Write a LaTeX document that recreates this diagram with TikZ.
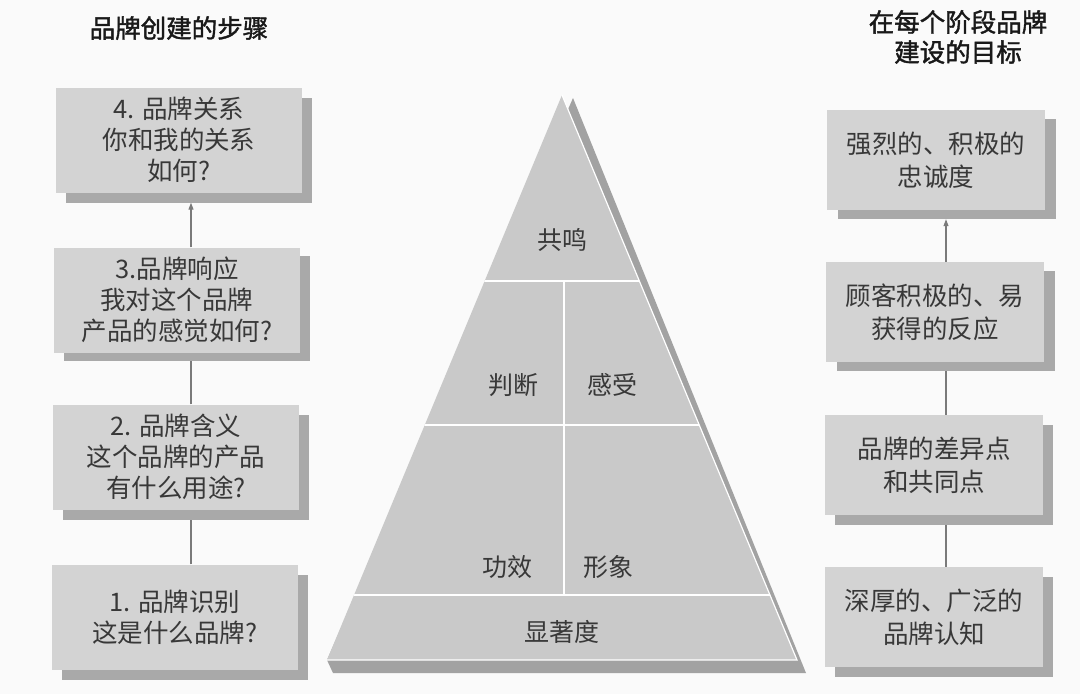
\documentclass[tikz,border=0pt]{standalone}
\usepackage{fontspec}
\setmainfont{Noto Sans CJK SC}
\newfontfamily\boldcjk[FakeBold=1.5]{Noto Sans CJK SC}
\usetikzlibrary{arrows.meta}
\definecolor{bg}{HTML}{FAFAFA}
\definecolor{boxfill}{HTML}{D3D3D3}
\definecolor{shadowfill}{HTML}{A9A9A9}
\definecolor{pyrfill}{HTML}{C9C9C9}
\definecolor{pyrshadow}{HTML}{A2A2A2}
\definecolor{txt}{HTML}{383838}
\definecolor{linecol}{HTML}{7A7A7A}
\tikzset{
  stepbox/.style={fill=boxfill, draw=none, minimum width=246pt, minimum height=105pt,
    align=center, text=txt, font=\fontsize{25.5}{31}\selectfont, inner sep=0pt},
  goalbox/.style={fill=boxfill, draw=none, minimum width=218pt, minimum height=100pt,
    align=center, text=txt, font=\fontsize{25.5}{33}\selectfont, inner sep=0pt},
  lshadow/.style={fill=shadowfill, draw=none, minimum width=246pt, minimum height=105pt, inner sep=0pt},
  rshadow/.style={fill=shadowfill, draw=none, minimum width=218pt, minimum height=100pt, inner sep=0pt},
  conn/.style={draw=linecol, line width=1.1pt},
  connarrow/.style={conn, -{Triangle[length=7pt,width=5pt]}},
  pyrtext/.style={text=txt, font=\fontsize{25}{28}\selectfont, inner sep=0pt},
  titletext/.style={text=black!90, font=\boldcjk\fontsize{25.5}{30}\selectfont, align=center, inner sep=0pt},
  divline/.style={draw=white, line width=1.6pt}
}
\begin{document}
\begin{tikzpicture}[x=1pt,y=-1pt]
\fill[bg] (0,0) rectangle (1080,694);
\useasboundingbox (0,0) rectangle (1080,694);

% titles
\node[titletext] (tl) at (179,28) {品牌创建的步骤};
\node[titletext] (tr) at (958,37) {在每个阶段品牌\\建设的目标};

% left column
\node[lshadow] (s4) at (189,150) {};
\node[stepbox] (b4) at (179,140) {4. 品牌关系\\你和我的关系\\如何?};
\node[lshadow] (s3) at (187,308) {};
\node[stepbox] (b3) at (177,300) {3.品牌响应\\我对这个品牌\\产品的感觉如何?};
\node[lshadow] (s2) at (186,467) {};
\node[stepbox] (b2) at (176,457) {2. 品牌含义\\这个品牌的产品\\有什么用途?};
\node[lshadow] (s1) at (185,627) {};
\node[stepbox] (b1) at (175,617) {1. 品牌识别\\这是什么品牌?};

\coordinate (Lx) at (191,0);
\draw[connarrow] (b3.north -| Lx) -- (s4.south -| Lx);
\draw[conn] (b2.north -| Lx) -- (s3.south -| Lx);
\draw[conn] (b1.north -| Lx) -- (s2.south -| Lx);

% right column
\node[rshadow] (sa) at (947,169) {};
\node[goalbox] (ga) at (936,160) {强烈的、积极的\\忠诚度};
\node[rshadow] (sb) at (946,321) {};
\node[goalbox] (gb) at (935,312) {顾客积极的、易\\获得的反应};
\node[rshadow] (sc) at (944,475) {};
\node[goalbox] (gc) at (934,465) {品牌的差异点\\和共同点};
\node[rshadow] (sd) at (944,627) {};
\node[goalbox] (gd) at (934,617) {深厚的、广泛的\\品牌认知};

\coordinate (Rx) at (946,0);
\draw[connarrow] (gb.north -| Rx) -- (sa.south -| Rx);
\draw[conn] (gc.north -| Rx) -- (sb.south -| Rx);
\draw[conn] (gd.north -| Rx) -- (sc.south -| Rx);

% pyramid
\coordinate (PA) at (562,95);
\coordinate (PL) at (327,660);
\coordinate (PR) at (797,660);
\fill[pyrshadow] (573,98) -- (806,673) -- (333,673) -- (327,660) -- cycle;
\fill[pyrfill] (PA) -- (PL) -- (PR) -- cycle;
\begin{scope}
  \clip (PA) -- (PL) -- (PR) -- cycle;
  \draw[divline] (300,281) -- (820,281);
  \draw[divline] (300,425) -- (820,425);
  \draw[divline] (300,595) -- (820,595);
  \draw[divline] (564,281) -- (564,595);
\end{scope}
\draw[draw=white, line width=1.2pt] (PA) -- (PR) -- (PL);

\node[pyrtext] (p1) at (562,240) {共鸣};
\node[pyrtext] (p2) at (513,385) {判断};
\node[pyrtext] (p3) at (612,385) {感受};
\node[pyrtext] (p4) at (507,567) {功效};
\node[pyrtext] (p5) at (608,567) {形象};
\node[pyrtext] (p6) at (562,632) {显著度};
\end{tikzpicture}
\end{document}
